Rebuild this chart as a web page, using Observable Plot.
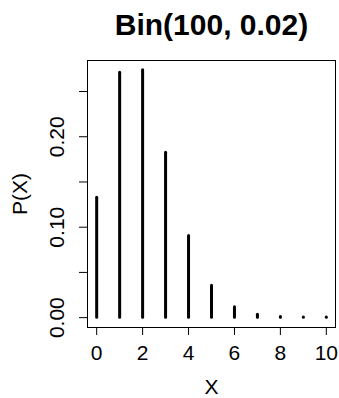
<!DOCTYPE html>
<html>
<head>
<meta charset="utf-8">
<script src="https://cdn.jsdelivr.net/npm/d3@7"></script>
<script src="https://cdn.jsdelivr.net/npm/@observablehq/plot@0.6"></script>
<style>
  html, body { margin: 0; padding: 0; background: #fff; }
  svg { display: block; }
</style>
</head>
<body>
<div id="chart"></div>
<script>
const titleText = "Bin(100, 0.02)";
const xs = [0, 1, 2, 3, 4, 5, 6, 7, 8, 9, 10];
const probs = [0.1326, 0.2707, 0.2734, 0.1823, 0.0902, 0.0353, 0.0114, 0.0031, 0.0007, 0.0002, 0.00003];
const xTicks = [0, 2, 4, 6, 8, 10];
const yTicks = [0, 0.05, 0.10, 0.15, 0.20, 0.25];
const yLabeled = [0, 0.10, 0.20];
const xLabel = "X";
const yLabel = "P(X)";

const data = xs.map((x, i) => ({x, p: probs[i]}));

const chart = Plot.plot({
  width: 339,
  height: 398,
  marginLeft: 87,
  marginTop: 60,
  marginRight: 4,
  marginBottom: 71,
  style: {fontFamily: "'Liberation Sans', Arial, Helvetica, sans-serif", fontSize: "21px", color: "#000", background: "#fff"},
  x: {domain: [-0.4, 10.4]},
  y: {domain: [-0.0109, 0.2843]},
  marks: [
    Plot.frame({stroke: "#000", strokeWidth: 1}),
    Plot.axisX({ticks: xTicks, tickSize: 8, tickPadding: 10, stroke: "#000", strokeWidth: 1, label: xLabel, labelAnchor: "center", labelArrow: "none", labelOffset: 66, fontSize: 21}),
    Plot.axisY({ticks: yTicks, tickSize: 8, tickPadding: 16, tickRotate: -90, stroke: "#000", strokeWidth: 1,
      tickFormat: d => yLabeled.some(v => Math.abs(v - d) < 1e-9) ? d.toFixed(2) : "",
      label: yLabel, labelAnchor: "center", labelArrow: "none", labelOffset: 75, fontSize: 21}),
    Plot.ruleX(data, {x: "x", y1: 0, y2: "p", stroke: "#000", strokeWidth: 3, strokeLinecap: "round"}),
    Plot.text([titleText], {frameAnchor: "top", dy: -35, lineAnchor: "middle", fontSize: 30, fontWeight: "bold", fill: "#000"})
  ]
});
document.getElementById("chart").appendChild(chart);
</script>
</body>
</html>
